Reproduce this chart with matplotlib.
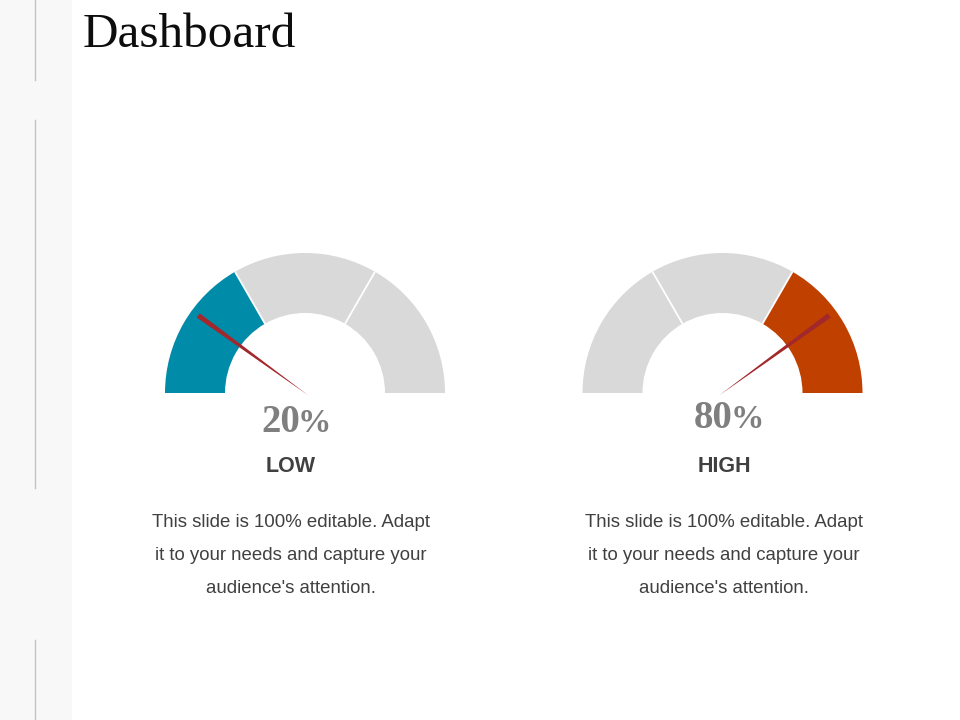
import matplotlib
matplotlib.use("Agg")
import matplotlib.pyplot as plt
from matplotlib.patches import Wedge, Rectangle, Polygon
import numpy as np

# data
values = [20, 80]
labels = ["LOW", "HIGH"]
active_segment = [0, 2]          # which third is highlighted
active_colors = ["#008BA8", "#C04000"]
description = ["This slide is 100% editable. Adapt",
               "it to your needs and capture your",
               "audience's attention."]

W, H = 960, 720
fig = plt.figure(figsize=(9.6, 7.2), dpi=100)
ax = fig.add_axes([0, 0, 1, 1])
ax.set_xlim(0, W)
ax.set_ylim(0, H)
ax.set_aspect("equal")
ax.axis("off")


def Y(y):
    # picture rows (top down) -> axes coords (bottom up)
    return H - y


# left strip with broken rule
ax.add_patch(Rectangle((0, 0), 72, H, color="#F8F8F8", lw=0))
for y0, y1 in [(0, 80), (120, 488), (640, 720)]:
    ax.plot([34.5, 34.5], [Y(y0), Y(y1)], color="#C4C4C4", lw=1)

ax.text(83, Y(47), "Dashboard", family="Liberation Serif", fontsize=35.5,
        color="#0D0D0D", va="baseline", ha="left")

centers = [305, 722.5]
text_x = [291, 724]
pct_base = [432, 428]
R, r = 140, 80
cy = Y(393)

for i, v in enumerate(values):
    cx = centers[i]
    for s in range(3):
        a1 = 180 - 60 * (s + 1)
        a2 = 180 - 60 * s
        col = active_colors[i] if s == active_segment[i] else "#D9D9D9"
        ax.add_patch(Wedge((cx, cy), R, a1, a2, width=R - r, color=col, lw=0))
    for a in (60, 120):
        t = np.radians(a)
        ax.plot([cx + r * np.cos(t), cx + R * np.cos(t)],
                [cy + r * np.sin(t), cy + R * np.sin(t)],
                color="white", lw=1.3, solid_capstyle="butt")

    # tapered needle
    ang = np.radians(180 - v / 100 * 180)
    L = 132
    d = np.array([np.cos(ang), np.sin(ang)])
    n = np.array([-d[1], d[0]])
    base = np.array([cx, cy]) - d * 4
    tip = np.array([cx, cy]) + d * L
    pts = [base, tip + n * 2.6, tip - n * 2.6]
    ax.add_patch(Polygon(pts, closed=True, color="#A3282C", lw=0))

    # percentage
    pb = Y(pct_base[i])
    px = text_x[i] + 9
    ax.text(px, pb, str(v), family="Liberation Serif", weight="bold",
            fontsize=28, color="#7F7F7F", ha="right", va="baseline")
    ax.text(px - 2.5, pb, "%", family="Liberation Serif", weight="bold",
            fontsize=24, color="#7F7F7F", ha="left", va="baseline")

    ax.text(text_x[i], Y(472), labels[i], family="Liberation Sans", weight="bold",
            fontsize=15.5, color="#404040", ha="center", va="baseline")

    for k, line in enumerate(description):
        ax.text(text_x[i], Y(527 + 33 * k), line, family="Liberation Sans",
                fontsize=13.4, color="#404040", ha="center", va="baseline")

fig.savefig("out.png", dpi=100)
